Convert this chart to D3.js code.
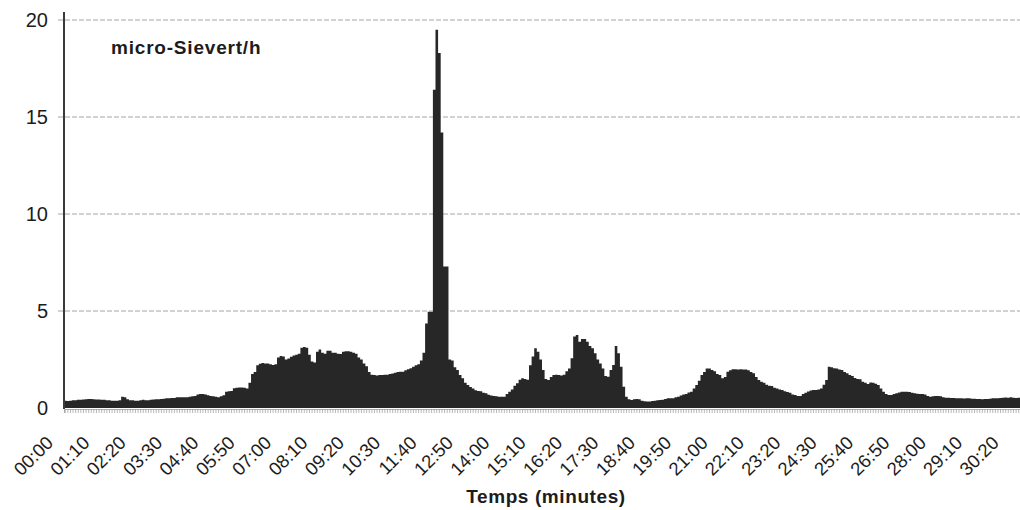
<!DOCTYPE html>
<html>
<head>
<meta charset="utf-8">
<script src="https://cdn.jsdelivr.net/npm/d3@7"></script>
<style>
  html, body { margin: 0; padding: 0; background: #fff; }
  svg { display: block; }
  text { font-family: "Liberation Sans", Arial, sans-serif; fill: #1c1c1c; }
</style>
</head>
<body>
<svg id="chart" width="1020" height="510"></svg>
<script>
// Dose rate (micro-Sievert/h), one reading every 5 seconds
const doseValues = [
  0.38,0.36,0.38,0.40,0.40,0.42,0.42,
  0.44,0.45,0.46,0.46,0.45,0.44,0.44,0.42,0.42,
  0.40,0.40,0.38,0.38,0.38,0.40,
  0.58,0.55,0.45,
  0.40,0.40,0.38,0.38,0.40,0.42,0.40,0.40,
  0.42,0.44,0.45,0.45,0.46,
  0.48,0.50,0.50,0.52,0.52,0.55,
  0.55,0.56,0.55,0.56,0.58,0.60,0.62,
  0.70,0.72,0.72,0.70,
  0.66,0.62,0.60,0.58,0.56,
  0.60,0.66,
  0.84,0.86,0.88,
  1.02,1.05,1.06,1.06,1.05,
  1.00,1.30,
  1.75,1.85,
  2.20,2.28,2.32,2.30,2.30,2.26,
  2.22,2.25,
  2.60,2.68,2.65,
  2.50,2.55,
  2.64,
  2.70,2.75,2.80,
  3.10,3.15,3.10,
  2.75,2.40,2.35,
  2.90,3.02,
  2.85,2.80,
  2.95,2.95,
  2.85,2.85,
  2.80,2.78,
  2.90,2.93,2.93,2.90,
  2.85,2.80,
  2.60,2.50,
  2.30,2.15,
  1.85,1.72,
  1.70,1.68,1.70,1.70,1.72,
  1.72,1.75,1.78,
  1.82,1.85,1.87,1.87,
  1.95,2.00,2.05,
  2.12,2.20,2.25,
  2.45,2.85,
  4.36,4.96,4.96,
  16.4,19.5,18.3,14.2,7.3,7.3,
  2.50,2.45,
  2.10,1.96,
  1.70,1.53,
  1.30,1.19,
  1.08,1.01,
  0.92,0.88,0.86,
  0.78,0.76,
  0.68,0.64,0.62,
  0.60,0.58,0.58,0.58,
  0.72,0.84,0.95,
  1.15,1.27,
  1.45,1.53,1.50,
  1.45,
  2.20,2.65,
  3.08,
  2.90,2.50,
  1.96,
  1.50,1.44,
  1.60,1.70,1.72,1.70,1.68,1.72,
  1.90,2.04,
  2.56,
  3.68,3.76,
  3.42,
  3.56,3.56,
  3.42,
  3.20,3.08,
  2.82,
  2.50,2.30,
  2.04,
  1.65,1.61,
  1.96,
  2.22,
  3.20,
  2.82,
  2.13,
  1.10,
  0.58,
  0.45,0.41,
  0.45,0.47,0.45,
  0.38,0.35,0.33,0.33,
  0.36,0.38,0.40,0.41,0.42,
  0.46,0.50,0.50,0.50,
  0.55,0.58,
  0.65,0.70,0.72,
  0.80,0.84,
  1.00,1.19,
  1.40,1.70,1.85,
  2.04,2.04,
  1.96,1.90,
  1.75,1.70,
  1.53,1.60,
  1.87,1.95,
  2.00,2.00,1.99,2.00,1.98,1.98,1.95,
  1.85,1.79,
  1.60,1.44,
  1.35,1.30,
  1.20,1.15,1.13,
  1.05,1.00,0.96,0.93,
  0.86,0.82,0.79,
  0.70,0.67,
  0.62,0.62,
  0.72,0.79,
  0.85,0.90,0.93,0.93,0.95,
  1.01,
  1.20,1.44,
  2.13,
  2.10,2.05,2.04,
  1.98,1.96,
  1.85,1.79,
  1.70,1.65,
  1.55,1.50,1.48,
  1.35,1.30,
  1.24,
  1.31,1.30,
  1.25,1.19,
  1.00,0.84,
  0.72,0.67,0.67,
  0.72,0.76,
  0.80,0.84,0.84,0.84,0.82,
  0.78,0.76,
  0.74,0.72,0.72,0.70,
  0.62,0.58,
  0.60,0.62,0.62,0.60,
  0.55,0.53,0.53,0.52,0.52,
  0.50,0.50,0.50,0.49,0.50,0.50,0.48,0.48,
  0.46,0.46,0.45,0.46,0.46,
  0.48,0.50,0.50,0.50,0.52,
  0.53,0.54,0.53,0.55,0.53,0.52,0.53
];

// Category labels: elapsed time mm:ss every 5 s
function fmtTime(sec) {
  const m = Math.floor(sec / 60), s = sec % 60;
  return String(m).padStart(2, "0") + ":" + String(s).padStart(2, "0");
}
const timeCategories = doseValues.map((_, i) => fmtTime(i * 5));

const xTickLabels = ["00:00","01:10","02:20","03:30","04:40","05:50","07:00","08:10","09:20",
  "10:30","11:40","12:50","14:00","15:10","16:20","17:30","18:40","19:50","21:00","22:10",
  "23:20","24:30","25:40","26:50","28:00","29:10","30:20"];
const yTickValues = [0, 5, 10, 15, 20];

const unitLabel = "micro-Sievert/h";
const xTitle = "Temps (minutes)";

(function draw() {
  const svg = d3.select("#chart");
  const pLeft = 64, pRight = 1020, pTop = 20, pBottom = 408;

  const x = d3.scaleBand().domain(timeCategories).range([pLeft, pRight]).padding(0);
  const y = d3.scaleLinear().domain([0, 20]).range([pBottom, pTop]);
  const bw = x.bandwidth();

  // gridlines
  svg.append("g")
    .selectAll("line")
    .data(yTickValues.filter(v => v > 0))
    .join("line")
    .attr("x1", pLeft - 6).attr("x2", pRight)
    .attr("y1", d => y(d)).attr("y2", d => y(d))
    .attr("stroke", "#a4a4a4").attr("stroke-width", 1)
    .attr("stroke-dasharray", "5,2");

  // bars drawn as one stepped area (each category a full-width column)
  const pts = doseValues.map((v, i) => ({ x: x(timeCategories[i]), v }));
  pts.push({ x: x(timeCategories[doseValues.length - 1]) + bw, v: doseValues[doseValues.length - 1] });
  const area = d3.area()
    .x(d => d.x)
    .y0(y(0))
    .y1(d => y(d.v))
    .curve(d3.curveStepAfter);
  svg.append("path")
    .datum(pts)
    .attr("d", area)
    .attr("fill", "#272727");

  // minor category ticks along x axis
  const xMinor = svg.append("g")
    .attr("transform", `translate(0,${pBottom + 1})`)
    .call(d3.axisBottom(x).tickValues(timeCategories).tickSize(4).tickFormat(""));
  xMinor.select(".domain").attr("stroke", "#9a9a9a").attr("stroke-width", 0.8);
  xMinor.selectAll(".tick line").attr("stroke", "#999").attr("stroke-width", 0.7);

  // x tick labels
  const xLab = svg.append("g")
    .attr("transform", `translate(0,${pBottom})`)
    .call(d3.axisBottom(x).tickValues(xTickLabels).tickSize(0).tickFormat(d => d));
  xLab.select(".domain").remove();
  xLab.selectAll(".tick text")
    .attr("x", 0).attr("y", 0).attr("dy", 0)
    .attr("text-anchor", "end")
    .attr("transform", "translate(-11,36) rotate(-45)")
    .style("font-size", "18.5px")
    .style("font-family", "'Liberation Sans', Arial, sans-serif")
    .attr("fill", "#1c1c1c");

  // y axis
  const yAx = svg.append("g")
    .attr("transform", `translate(${pLeft},0)`)
    .call(d3.axisLeft(y).tickValues(yTickValues).tickSize(0).tickPadding(16).tickFormat(d3.format("d")));
  yAx.select(".domain").remove();
  yAx.selectAll(".tick text")
    .style("font-size", "20px")
    .style("font-family", "'Liberation Sans', Arial, sans-serif")
    .attr("fill", "#1c1c1c");

  svg.append("line")
    .attr("x1", pLeft).attr("x2", pLeft)
    .attr("y1", 12).attr("y2", pBottom + 1)
    .attr("stroke", "#3a3a3a").attr("stroke-width", 2);

  // unit label
  svg.append("text")
    .attr("x", 111).attr("y", 54)
    .style("font-size", "19px").style("font-weight", "bold")
    .style("letter-spacing", "0.8px")
    .text(unitLabel);

  // x title
  svg.append("text")
    .attr("x", 546).attr("y", 503)
    .attr("text-anchor", "middle")
    .style("font-size", "19px").style("font-weight", "bold")
    .style("letter-spacing", "0.6px")
    .text(xTitle);
})();
</script>
</body>
</html>
